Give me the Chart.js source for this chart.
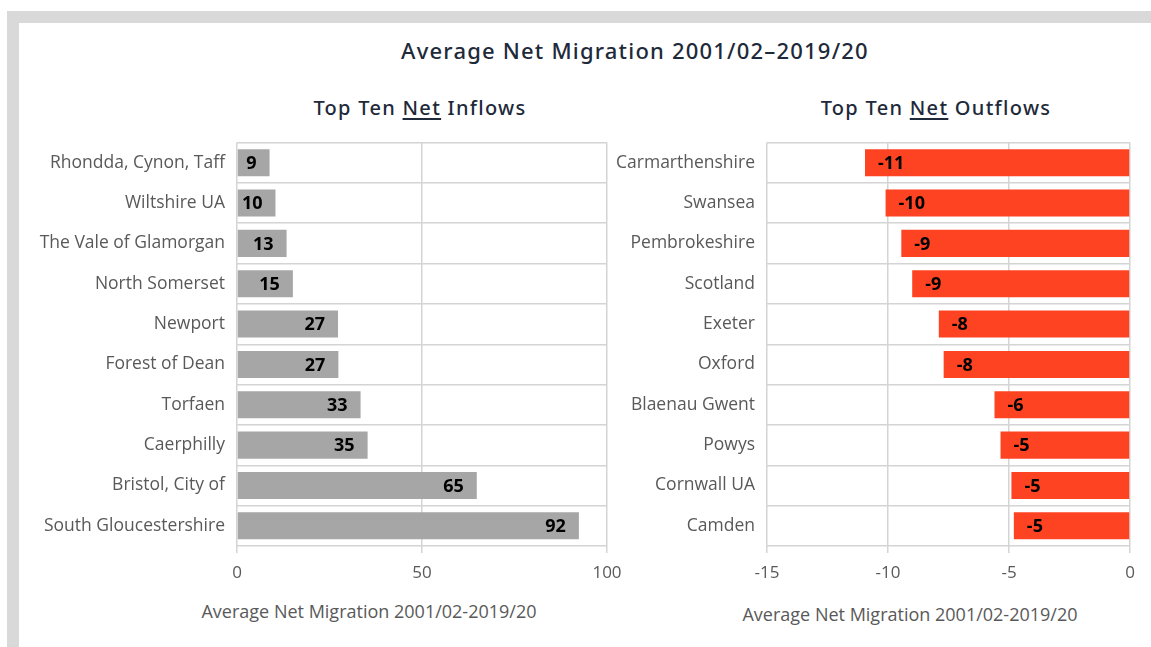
<!DOCTYPE html>
<html>
<head>
<meta charset="utf-8">
<script src="https://cdn.jsdelivr.net/npm/chart.js@4.4.1/dist/chart.umd.min.js"></script>
<style>
  html, body { margin: 0; padding: 0; background: #fff; }
  body { width: 1151px; height: 647px; position: relative; overflow: hidden; }
  .frame-top { position: absolute; left: 7px; top: 11px; width: 1144px; height: 12px; background: #d9d9d9; }
  .frame-left { position: absolute; left: 7px; top: 11px; width: 12px; height: 636px; background: #d9d9d9; }
  .txt { position: absolute; white-space: nowrap; text-align: center; }
  .main-title { left: 335px; width: 600px; top: 35px; font: 500 22px "Noto Sans", sans-serif; letter-spacing: 1.2px; color: #1e2a3a; }
  .sub-title { top: 94px; width: 400px; font: 500 20px "Noto Sans", sans-serif; letter-spacing: 1.3px; color: #1e2a3a; }
  .sub-title u { text-underline-offset: 3px; text-decoration-thickness: 1.5px; }
  .axis-title { width: 400px; font: 18px "Open Sans", sans-serif; color: #595959; }
  canvas { position: absolute; }
</style>
</head>
<body>
<div class="frame-top"></div>
<div class="frame-left"></div>

<div class="txt main-title">Average Net Migration 2001/02–2019/20</div>
<div class="txt sub-title" style="left:220px;">Top Ten <u>Net</u> Inflows</div>
<div class="txt sub-title" style="left:736px;">Top Ten <u>Net</u> Outflows</div>

<div style="position:absolute;left:20px;top:120px;width:620px;height:466px;"><canvas id="inflowChart"></canvas></div>
<div style="position:absolute;left:600px;top:120px;width:550px;height:466px;"><canvas id="outflowChart"></canvas></div>

<div class="txt axis-title" style="left:169px;top:599px;">Average Net Migration 2001/02-2019/20</div>
<div class="txt axis-title" style="left:710px;top:602px;">Average Net Migration 2001/02-2019/20</div>

<script>
// Inflows (people per year, averaged)
const inflowAreas = ['Rhondda, Cynon, Taff', 'Wiltshire UA', 'The Vale of Glamorgan', 'North Somerset',
    'Newport', 'Forest of Dean', 'Torfaen', 'Caerphilly', 'Bristol, City of', 'South Gloucestershire'];
const inflowValues = [8.8, 10.4, 13.4, 15.1, 27.3, 27.4, 33.4, 35.3, 64.8, 92.4];

// Outflows
const outflowAreas = ['Carmarthenshire', 'Swansea', 'Pembrokeshire', 'Scotland', 'Exeter',
    'Oxford', 'Blaenau Gwent', 'Powys', 'Cornwall UA', 'Camden'];
const outflowValues = [-10.95, -10.1, -9.45, -9.0, -7.9, -7.7, -5.6, -5.35, -4.9, -4.8];

const inflowTicks = [0, 50, 100];
const outflowTicks = [-15, -10, -5, 0];

const GRID = '#d4d4d4';
const LABEL_GREY = '#595959';

// Value labels drawn just inside the end of each bar
const barLabels = {
    id: 'barLabels',
    afterDatasetsDraw(chart) {
        const ctx = chart.ctx;
        const meta = chart.getDatasetMeta(0);
        const data = chart.data.datasets[0].data;
        ctx.save();
        ctx.font = 'bold 18px "Open Sans", sans-serif';
        ctx.fillStyle = '#000';
        ctx.textBaseline = 'middle';
        meta.data.forEach((bar, i) => {
            const v = data[i];
            const text = String(Math.round(v));
            if (v >= 0) {
                ctx.textAlign = 'right';
                ctx.fillText(text, bar.x - 13, bar.y + 1);
            } else {
                ctx.textAlign = 'left';
                ctx.fillText(text, bar.x + 13, bar.y + 1);
            }
        });
        ctx.restore();
    }
};

function makeChart(id, labels, values, color, ticks, yWidth, padRight) {
    const ctx = document.getElementById(id).getContext('2d');
    return new Chart(ctx, {
        type: 'bar',
        data: {
            labels: labels,
            datasets: [{
                data: values,
                backgroundColor: color,
                borderWidth: 0,
                barPercentage: 0.67,
                categoryPercentage: 1
            }]
        },
        options: {
            indexAxis: 'y',
            responsive: true,
            maintainAspectRatio: false,
            animation: false,
            layout: { padding: { top: 22, right: padRight, bottom: 0, left: 0 } },
            plugins: {
                legend: { display: false },
                tooltip: { enabled: false }
            },
            scales: {
                x: {
                    min: ticks[0],
                    max: ticks[ticks.length - 1],
                    afterBuildTicks: (scale) => {
                        scale.ticks = ticks.map(v => ({ value: v }));
                    },
                    afterFit: (scale) => { scale.height = 40; },
                    border: { display: false },
                    grid: { color: GRID, lineWidth: 1.5, tickLength: 7 },
                    ticks: {
                        color: LABEL_GREY,
                        padding: 10,
                        font: { family: 'Open Sans', size: 17 }
                    }
                },
                y: {
                    afterFit: (scale) => { scale.width = yWidth; },
                    border: { display: false },
                    grid: { color: GRID, lineWidth: 1.5, drawTicks: false },
                    ticks: {
                        color: LABEL_GREY,
                        padding: 12,
                        font: { family: 'Open Sans', size: 17.5 }
                    }
                }
            }
        },
        plugins: [barLabels]
    });
}

makeChart('inflowChart', inflowAreas, inflowValues, '#a6a6a6', inflowTicks, 217, 33);
makeChart('outflowChart', outflowAreas, outflowValues, '#fe4322', outflowTicks, 167, 20);
</script>
</body>
</html>
